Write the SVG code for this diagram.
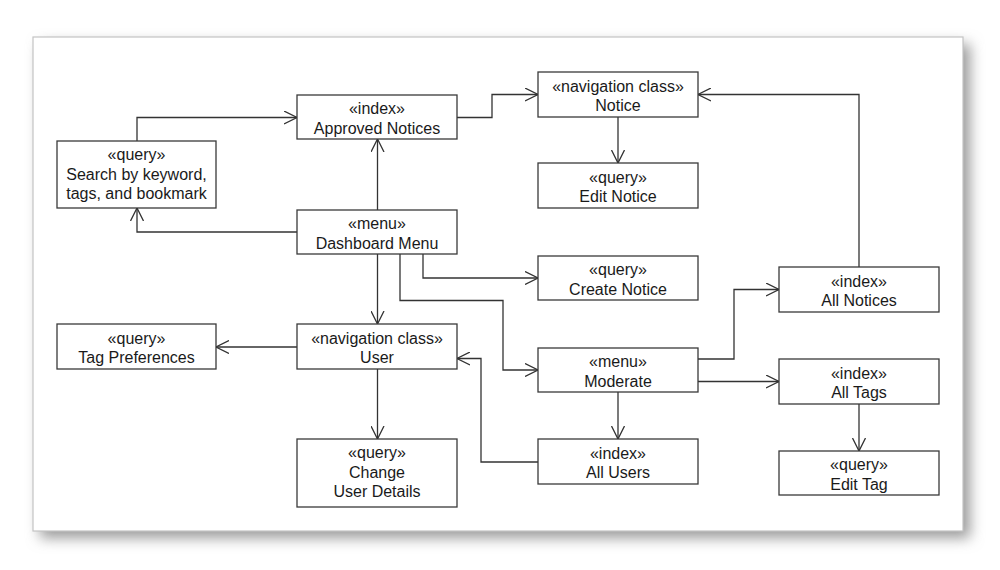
<svg xmlns="http://www.w3.org/2000/svg" width="1000" height="570" viewBox="0 0 1000 570">
<style>
.box{fill:#fff;stroke:#3a3a3a;stroke-width:1.3}
.t{font-family:"Liberation Sans",Arial,sans-serif;font-size:16px;fill:#1a1a1a;text-anchor:middle}
.c{fill:none;stroke:#333;stroke-width:1.3}
</style>
<defs>
<filter id="sh" x="-10%" y="-10%" width="120%" height="130%">
<feGaussianBlur stdDeviation="7"/>
</filter>
<marker id="ar" viewBox="0 0 14 14" refX="13" refY="7" markerWidth="14" markerHeight="14" markerUnits="userSpaceOnUse" orient="auto">
<path d="M0,0.5 L13,7 L0,13.5" fill="none" stroke="#333" stroke-width="1.3"/>
</marker>
</defs>
<rect width="1000" height="570" fill="#fff"/>
<rect x="40" y="44" width="930" height="494" fill="#9a9a9a" filter="url(#sh)"/>
<rect x="33" y="37" width="930" height="494" fill="#fff" stroke="#c4c4c4" stroke-width="1.2"/>

<g id="connectors">
<path class="c" d="M137,141 V117.5 H297" marker-end="url(#ar)"/>
<path class="c" d="M297,232 H137 V208" marker-end="url(#ar)"/>
<path class="c" d="M377.5,210 V139" marker-end="url(#ar)"/>
<path class="c" d="M457,117.5 H492 V94.5 H538" marker-end="url(#ar)"/>
<path class="c" d="M618,117 V163" marker-end="url(#ar)"/>
<path class="c" d="M859,267 V94.5 H698" marker-end="url(#ar)"/>
<path class="c" d="M423,254 V278 H538" marker-end="url(#ar)"/>
<path class="c" d="M400,254 V300.5 H503 V370 H538" marker-end="url(#ar)"/>
<path class="c" d="M377.5,254 V324" marker-end="url(#ar)"/>
<path class="c" d="M297,347 H216" marker-end="url(#ar)"/>
<path class="c" d="M377.5,369 V439" marker-end="url(#ar)"/>
<path class="c" d="M698,359 H734 V289.5 H779" marker-end="url(#ar)"/>
<path class="c" d="M698,381.5 H779" marker-end="url(#ar)"/>
<path class="c" d="M618,392 V439" marker-end="url(#ar)"/>
<path class="c" d="M538,462 H481 V358.5 H457" marker-end="url(#ar)"/>
<path class="c" d="M859,404 V451" marker-end="url(#ar)"/>
</g>

<g id="approved-notices">
<rect class="box" x="297" y="95" width="160" height="44"/>
<text class="t" x="377" y="114">«index»</text>
<text class="t" x="377" y="133.5">Approved Notices</text>
</g>
<g id="search">
<rect class="box" x="57" y="141" width="159" height="67"/>
<text class="t" x="136.5" y="160">«query»</text>
<text class="t" x="136.5" y="179.5">Search by keyword,</text>
<text class="t" x="136.5" y="199">tags, and bookmark</text>
</g>
<g id="dashboard-menu">
<rect class="box" x="297" y="210" width="160" height="44"/>
<text class="t" x="377" y="229">«menu»</text>
<text class="t" x="377" y="248.5">Dashboard Menu</text>
</g>
<g id="notice">
<rect class="box" x="538" y="72" width="160" height="45"/>
<text class="t" x="618" y="91.5">«navigation class»</text>
<text class="t" x="618" y="111">Notice</text>
</g>
<g id="edit-notice">
<rect class="box" x="538" y="163" width="160" height="45"/>
<text class="t" x="618" y="182.5">«query»</text>
<text class="t" x="618" y="202">Edit Notice</text>
</g>
<g id="create-notice">
<rect class="box" x="538" y="256" width="160" height="44"/>
<text class="t" x="618" y="275">«query»</text>
<text class="t" x="618" y="294.5">Create Notice</text>
</g>
<g id="all-notices">
<rect class="box" x="779" y="267" width="160" height="45"/>
<text class="t" x="859" y="286.5">«index»</text>
<text class="t" x="859" y="306">All Notices</text>
</g>
<g id="moderate">
<rect class="box" x="538" y="348" width="160" height="44"/>
<text class="t" x="618" y="367">«menu»</text>
<text class="t" x="618" y="386.5">Moderate</text>
</g>
<g id="all-tags">
<rect class="box" x="779" y="359" width="160" height="45"/>
<text class="t" x="859" y="378.5">«index»</text>
<text class="t" x="859" y="398">All Tags</text>
</g>
<g id="edit-tag">
<rect class="box" x="779" y="451" width="160" height="44"/>
<text class="t" x="859" y="470">«query»</text>
<text class="t" x="859" y="489.5">Edit Tag</text>
</g>
<g id="all-users">
<rect class="box" x="538" y="439" width="160" height="45"/>
<text class="t" x="618" y="458.5">«index»</text>
<text class="t" x="618" y="478">All Users</text>
</g>
<g id="tag-preferences">
<rect class="box" x="57" y="324" width="159" height="45"/>
<text class="t" x="136.5" y="343.5">«query»</text>
<text class="t" x="136.5" y="363">Tag Preferences</text>
</g>
<g id="user">
<rect class="box" x="297" y="324" width="160" height="45"/>
<text class="t" x="377" y="343.5">«navigation class»</text>
<text class="t" x="377" y="363">User</text>
</g>
<g id="change-user-details">
<rect class="box" x="297" y="439" width="160" height="68"/>
<text class="t" x="377" y="458">«query»</text>
<text class="t" x="377" y="477.5">Change</text>
<text class="t" x="377" y="497">User Details</text>
</g>
</svg>
